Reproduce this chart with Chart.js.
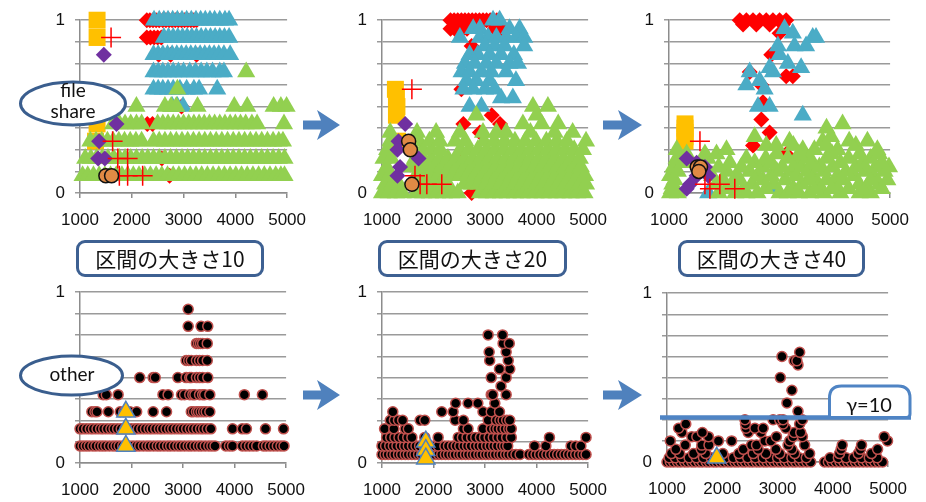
<!DOCTYPE html>
<html>
<head>
<meta charset="utf-8">
<script src="https://cdn.jsdelivr.net/npm/chart.js@4.4.1/dist/chart.umd.min.js"></script>
<style>
  html, body { margin: 0; padding: 0; background: #fff; }
  #stage { position: relative; width: 926px; height: 502px; overflow: hidden; background: #fff; }
  #stage canvas { position: absolute; }
  .cap {
    position: absolute; box-sizing: border-box; height: 37px; top: 240px;
    border: 3px solid #3d6092; border-radius: 9px; background: #fff;
    font-family: "Noto Sans CJK JP", sans-serif; font-size: 21px; line-height: 30px;
    text-align: center; color: #111; z-index: 2;
  }
  #overlay { position: absolute; left: 0; top: 0; z-index: 3; }
</style>
</head>
<body>
<div id="stage">
  <div class="cap" id="cap0" style="left:76px;width:188px;"></div>
  <div class="cap" id="cap1" style="left:378px;width:189px;"></div>
  <div class="cap" id="cap2" style="left:678px;width:187px;"></div>
  <svg id="overlay" width="926" height="502" xmlns="http://www.w3.org/2000/svg">
    <!-- group callouts -->
    <ellipse cx="73" cy="103.5" rx="52.5" ry="21.5" fill="#fff" stroke="#3a5e8e" stroke-width="3"/>
    <text x="73" y="97" font-family="Lato, sans-serif" font-size="19" text-anchor="middle" fill="#111">file</text>
    <text x="73" y="118" font-family="Lato, sans-serif" font-size="19" text-anchor="middle" fill="#111">share</text>
    <ellipse cx="71.5" cy="375.5" rx="51" ry="19.5" fill="#fff" stroke="#3a5e8e" stroke-width="3"/>
    <text x="72" y="381" font-family="Lato, sans-serif" font-size="19" text-anchor="middle" fill="#111">other</text>
    <!-- arrows between interval sizes -->
    <g fill="#4f81bd">
      <path d="M303 120.5 L321 120.5 L317 110 L340 125 L317 140 L321 129.5 L303 129.5 Z"/>
      <path d="M603 120.5 L622 120.5 L618 110 L642 125 L618 140 L622 129.5 L603 129.5 Z"/>
      <path d="M303 390.5 L321 390.5 L317 380 L340 395 L317 410 L321 399.5 L303 399.5 Z"/>
      <path d="M603 390.5 L622 390.5 L618 380 L642 395 L618 410 L622 399.5 L603 399.5 Z"/>
    </g>
    <!-- threshold line and its label -->
    <line x1="660" y1="417.5" x2="911" y2="417.5" stroke="#4f84c4" stroke-width="4.5"/>
    <path d="M829.5 417.5 L829.5 398 Q829.5 386 841.5 386 L898 386 Q910 386 910 398 L910 414 Q910 417.5 906.5 417.5 Z"
          fill="#fff" stroke="#4f84c4" stroke-width="3"/>
    <text id="gammaText" x="869" y="412" font-family="Lato, sans-serif" font-size="20" text-anchor="middle" fill="#111"></text>
  </svg>
</div>
<script>
// axis ticks and labels
const xTicks = [1000, 2000, 3000, 4000, 5000];
const yGridValues = [0, 0.125, 0.25, 0.375, 0.5, 0.625, 0.75, 0.875, 1];
const yTickText = [[0, '0'], [1, '1']];
const intervalLabels = ['区間の大きさ10', '区間の大きさ20', '区間の大きさ40'];
const thresholdLabel = 'γ=10';

// ---- interval size 10 (file share) : rows of [y, [x...]] ----
const t10Square = [[1.0, [1330]], [0.9, [1330]], [0.4, [1330]], [0.3, [1300]]];
const t10Red = [
  [1.0, [2290, 2350, 2410, 2470, 2530, 2600, 2660, 2720, 2780, 2840, 2900, 2960, 3020, 3080, 3140, 3200, 3250]],
  [0.9, [2290, 2360, 2430, 2500, 2570]],
  [0.8, [2520, 2750, 3250]],
  [0.5, [2960]],
  [0.4, [2300, 2400]],
  [0.2, [2580]],
  [0.1, [2730]]
];
const t10Blue = [
  [1.0, [2430, 2530, 2620, 2700, 2790, 2880, 2970, 3060, 3150, 3240, 3330, 3420, 3510, 3600, 3700, 3800, 3880]],
  [0.9, [2620, 2710, 2800, 2890, 2980, 3070, 3160, 3250, 3340, 3430, 3520, 3610, 3700, 3790, 3880]],
  [0.8, [2420, 2510, 2600, 2690, 2780, 2870, 2960, 3050, 3140, 3230, 3320, 3410, 3500, 3590, 3680, 3780, 3900]],
  [0.7, [2420, 2510, 2600, 2700, 2800, 2900, 3000, 3120, 3230, 3340, 3450, 3560, 3700, 3780]],
  [0.6, [2420, 2510, 2600, 2700, 2800, 2930, 3060, 3200, 3300, 3650]],
  [0.5, [2780, 2880, 2990]]
];
const t10Green = [
  [0.1, [1050, 1150, 1260, 1370, 1480, 1590, 1700, 1810, 1920, 2030, 2140, 2250, 2360, 2470, 2580, 2690, 2800, 2910, 3020, 3130, 3240, 3350, 3460, 3570, 3680, 3790, 3900, 4010, 4120, 4230, 4340, 4450, 4560, 4670, 4780, 4880, 4950]],
  [0.2, [1100, 1210, 1320, 1430, 1540, 1650, 1760, 1870, 1980, 2090, 2200, 2310, 2420, 2530, 2640, 2750, 2860, 2970, 3080, 3190, 3300, 3410, 3520, 3630, 3740, 3850, 3960, 4070, 4180, 4290, 4400, 4510, 4620, 4730, 4840, 4950]],
  [0.3, [1200, 1310, 1420, 1530, 1640, 1750, 1860, 1970, 2080, 2190, 2420, 2530, 2640, 2750, 2860, 2970, 3080, 3190, 3300, 3410, 3520, 3630, 3740, 3850, 3960, 4070, 4180, 4290, 4400, 4510, 4620, 4730, 4840, 4920]],
  [0.4, [1640, 1760, 1870, 1980, 2090, 2190, 2500, 2600, 2700, 2800, 2900, 3000, 3100, 3200, 3300, 3400, 3500, 3600, 3700, 3800, 3900, 4000, 4100, 4200, 4320, 4420, 4940]],
  [0.5, [2090, 2640, 2760, 2860, 3270, 3980, 4230, 4740, 4880, 4990]],
  [0.6, [2880]],
  [0.7, [4210]]
];
const t10Purple = [[0.8, [1460]], [0.4, [1705]], [0.3, [1370]], [0.2, [1350, 1480]]];
const t10Plus = [[0.9, [1600]], [0.3, [1630]], [0.2, [1730, 1920]], [0.1, [1760, 1920, 2210]]];
const t10Circle = [[0.1, [1500, 1610]]];

// ---- interval size 20 (file share) ----
const t20Square = [[0.6, [1260]], [0.55, [1280]], [0.5, [1290]], [0.45, [1280]], [0.3, [1300]]];
const t20Red = [
  [1.0, [2330, 2400, 2470, 2540, 2610, 2680, 2750, 2820, 2890, 2960, 3030, 3100, 3170, 3230]],
  [0.95, [2330, 2410, 2490, 2570, 2650, 3190, 3330]],
  [0.85, [2740]],
  [0.6, [2540]],
  [0.45, [3130]],
  [0.4, [2580, 3290]],
  [0.35, [2900]],
  [0.2, [2450]],
  [0, [2740]]
];
const t20Blue = [
  [1.0, [3155, 3283]],
  [0.95, [2770, 2900, 3475, 3670]],
  [0.9, [2512, 2897, 3060, 3220, 3410, 3600, 3760]],
  [0.85, [3000, 3190, 3380, 3760]],
  [0.8, [2700, 2860, 3090, 3310, 3560]],
  [0.75, [2610, 2800, 3025, 3220, 3475, 3640]],
  [0.7, [2545, 2700, 2930, 3120, 3410]],
  [0.65, [2640, 2830, 3090, 3600]],
  [0.6, [2580, 2770, 3000, 3190]],
  [0.55, [3310, 3540]],
  [0.5, [2700, 2930]]
];
const t20Green = [
  [0, [1000, 1130, 1270, 1400, 1660, 1800, 1930, 2070, 2200, 2340, 2470, 2900, 3040, 3170, 3310, 3440, 3580, 3710, 3850, 3980, 4120, 4250, 4390, 4520, 4660, 4790, 4930]],
  [0.05, [1060, 1200, 1330, 1730, 1870, 2000, 2140, 2280, 2600, 2750, 2880, 3020, 3160, 3300, 3440, 3580, 3720, 3860, 4000, 4140, 4280, 4420, 4560, 4700, 4840, 4960]],
  [0.1, [1000, 1140, 1660, 1800, 1950, 2090, 2230, 2380, 2520, 2660, 2800, 2950, 3090, 3230, 3380, 3520, 3660, 3800, 3950, 4090, 4230, 4370, 4520, 4660, 4800, 4940]],
  [0.15, [1090, 1560, 1710, 1860, 2010, 2160, 2310, 2460, 2610, 2760, 2910, 3060, 3210, 3360, 3510, 3660, 3810, 3960, 4110, 4260, 4410, 4560, 4710, 4860]],
  [0.2, [1030, 1180, 1640, 1800, 1960, 2120, 2280, 2440, 2600, 2760, 2920, 3080, 3240, 3400, 3560, 3720, 3880, 4040, 4200, 4360, 4520, 4680, 4840]],
  [0.25, [1100, 1620, 1790, 1960, 2130, 2520, 2690, 2860, 3030, 3200, 3370, 3540, 3710, 3880, 4050, 4220, 4390, 4560, 4730, 4900]],
  [0.3, [1160, 1720, 1920, 2120, 2420, 2620, 2980, 3180, 3380, 3580, 3780, 3990, 4190, 4390, 4590, 4960]],
  [0.35, [1160, 1680, 2050, 2510, 2960, 3220, 3410, 3880, 4350, 4700]],
  [0.4, [3735, 4100, 4420]],
  [0.45, [2830, 4000]],
  [0.5, [3930, 4220]]
];
const t20Purple = [[0.4, [1450]], [0.3, [1320]], [0.25, [1300]], [0.2, [1710]], [0.15, [1350]], [0.1, [1300]]];
const t20Plus = [[0.6, [1580]], [0.1, [1640]], [0.05, [1740, 1870, 2160]]];
const t20Circle = [[0.3, [1517]], [0.25, [1550]], [0.05, [1580]]];

// ---- interval size 40 (file share) ----
const t40Square = [[0.4, [1290]], [0.375, [1290]], [0.35, [1290]], [0.325, [1290]], [0.3, [1290]]];
const t40Red = [
  [1.0, [2280, 2400, 2520, 2640, 2760, 2880, 3000, 3120]],
  [0.975, [2340, 2580, 2820, 3060]],
  [0.925, [3000]],
  [0.8, [2850]],
  [0.7, [2460]],
  [0.675, [3120, 3240]],
  [0.625, [2670]],
  [0.525, [2700]],
  [0.425, [2670]],
  [0.35, [2820]],
  [0.275, [2520]],
  [0.225, [3120]]
];
const t40Blue = [
  [0.95, [3090]], [0.925, [3240]], [0.9, [3600, 3660]], [0.85, [2970, 3270, 3480]],
  [0.8, [3000]], [0.75, [3150]], [0.725, [2820, 3390]], [0.7, [2460, 2880]],
  [0.65, [2640]], [0.625, [2400]], [0.6, [2730]], [0.5, [2610, 2820]],
  [0.45, [3420]], [0.025, [2880]], [0, [1710]]
];
const t40Green = [
  [0, [1020, 1160, 1900, 2200, 2400, 2600, 3000, 3150, 3350, 3550, 3800, 4100, 4450, 4650]],
  [0.025, [1050, 2050, 2350, 2750, 3250, 3650, 3950, 4250, 4560, 4850]],
  [0.05, [1060, 1850, 2150, 2500, 2900, 3400, 3700, 4000, 4440, 4800]],
  [0.075, [1100, 1980, 2280, 2700, 3100, 3520, 3850, 4150, 4650, 4950]],
  [0.1, [1020, 1780, 2220, 2600, 2850, 3300, 3600, 4050, 4350, 4700]],
  [0.125, [1160, 2050, 2460, 2950, 3240, 3500, 3800, 4200, 4550, 4900]],
  [0.15, [1080, 1900, 2310, 2700, 3050, 3400, 3720, 3960, 4380, 4740, 4980]],
  [0.175, [1250, 2100, 2550, 2850, 3300, 3600, 4100, 4500, 4850]],
  [0.2, [1140, 1700, 2400, 2750, 3150, 3500, 3850, 4250, 4650]],
  [0.225, [1320, 1650, 1860, 2950, 3350, 3950, 4450, 4800]],
  [0.25, [1140, 2040, 3420, 3630, 4050, 4770]],
  [0.275, [2760, 2940, 3250, 3850, 4380]],
  [0.3, [3180, 3780, 4260, 4590]],
  [0.325, [2550, 3930]],
  [0.375, [3850]],
  [0.4, [4140]]
];
const t40Purple = [[0.2, [1320]], [0.175, [1500]], [0.15, [1650]], [0.1, [1500, 1710]], [0.05, [1380]], [0.025, [1320]]];
const t40Plus = [[0.3, [1560]], [0.05, [1650, 1920]], [0.025, [1740, 2190]]];
const t40Circle = [[0.15, [1510, 1570]], [0.125, [1540]]];

// ---- other traffic ----
const b10Dots = [
  [0.1, [1000, 1060, 1120, 1180, 1250, 1310, 1380, 1440, 1500, 1570, 1640, 1700, 1760, 1830, 1900, 1960, 2030, 2100, 2160, 2230, 2300, 2360, 2430, 2500, 2560, 2630, 2700, 2760, 2830, 2900, 2960, 3030, 3100, 3160, 3230, 3300, 3360, 3430, 3500, 3560, 3620, 3830, 3900, 3960, 4150, 4220, 4290, 4360, 4430, 4560, 4620, 4690, 4760, 4830, 4900, 4960]],
  [0.2, [1000, 1060, 1130, 1200, 1260, 1330, 1400, 1460, 1530, 1600, 1660, 1730, 1800, 1870, 1930, 2000, 2070, 2130, 2200, 2270, 2340, 2400, 2470, 2540, 2600, 2670, 2740, 2800, 2870, 2940, 3000, 3070, 3140, 3200, 3270, 3340, 3400, 3470, 3540, 3960, 4150, 4230, 4600, 4950]],
  [0.3, [1230, 1290, 1330, 1550, 1780, 1850, 1970, 2100, 2420, 2680, 3160, 3200, 3260, 3300, 3350, 3400, 3450, 3520]],
  [0.4, [1450, 1510, 1740, 2610, 2710, 2970, 3030, 3130, 3190, 3230, 3320, 3380, 3420, 3520, 4190, 4540]],
  [0.5, [2160, 2420, 2460, 2900, 3060, 3130, 3160, 3260, 3320, 3380, 3480]],
  [0.6, [3060, 3110, 3160, 3260, 3320, 3380, 3470]],
  [0.7, [3260, 3300, 3340, 3380, 3470]],
  [0.8, [3100, 3350, 3480]],
  [0.9, [3100]]
];
const b10Tri = [[0.3, [1890]], [0.2, [1890]], [0.1, [1890]]];

const b20Dots = [
  [0.05, [1000, 1060, 1120, 1190, 1250, 1320, 1380, 1450, 1510, 1580, 1640, 1710, 1770, 1840, 1900, 1970, 2030, 2100, 2160, 2230, 2290, 2360, 2420, 2490, 2550, 2620, 2680, 2750, 2810, 2880, 2940, 3010, 3070, 3140, 3200, 3270, 3330, 3400, 3460, 3530, 3600, 3680, 3850, 3920, 3990, 4060, 4130, 4200, 4270, 4340, 4410, 4480, 4550, 4620, 4690, 4760, 4830, 4900, 4960]],
  [0.1, [1000, 1070, 1150, 1220, 1290, 1370, 1440, 1510, 1590, 1660, 1730, 1810, 1880, 1950, 2030, 2090, 2220, 2290, 2370, 2440, 2510, 2590, 2660, 2730, 2810, 2880, 2950, 3030, 3100, 3170, 3240, 3320, 3380, 3440, 3960, 4180, 4670, 4760, 4860]],
  [0.15, [1090, 1170, 1250, 1330, 1410, 1500, 1580, 1830, 2090, 2480, 2560, 2650, 2740, 2820, 2910, 2990, 3080, 3160, 3250, 3330, 3420, 3510, 4250, 4960]],
  [0.2, [1050, 1230, 1450, 1510, 2580, 2670, 2960, 3120, 3190, 3250, 3320, 3390, 3460, 3510]],
  [0.25, [1160, 1240, 1320, 1400, 1740, 1830, 2420, 2580, 3060, 3220, 3290, 3350, 3420, 3480]],
  [0.3, [1210, 2160, 2380, 2960, 3120, 3280]],
  [0.35, [2430, 2670, 2860, 3190]],
  [0.4, [3120, 3150, 3410]],
  [0.45, [3310]],
  [0.5, [3120, 3410]],
  [0.55, [3280, 3480]],
  [0.6, [3090, 3450]],
  [0.65, [3080, 3410]],
  [0.7, [3350, 3470]],
  [0.75, [3060, 3340]]
];
const b20Tri = [[0.125, [1850]], [0.075, [1850]], [0.025, [1850]]];

const b40Dots = [
  [0, [1000, 1060, 1120, 1190, 1250, 1320, 1380, 1450, 1510, 1580, 1640, 1710, 1770, 1840, 1900, 1970, 2030, 2100, 2160, 2230, 2290, 2360, 2420, 2490, 2550, 2620, 2680, 2750, 2810, 2880, 2940, 3010, 3070, 3140, 3200, 3270, 3330, 3400, 3460, 3530, 3600, 3850, 3920, 3990, 4060, 4130, 4200, 4270, 4340, 4410, 4480, 4550, 4620, 4690, 4760, 4830, 4900]],
  [0.025, [1040, 1150, 1270, 1400, 1530, 1660, 1800, 1930, 2060, 2200, 2330, 2460, 2600, 2740, 2870, 3000, 3120, 3260, 3390, 3520, 3950, 4100, 4240, 4380, 4520, 4660, 4800]],
  [0.05, [1080, 1230, 1480, 1700, 2010, 2300, 2560, 2790, 3040, 3310, 3580, 4120, 4460, 4700]],
  [0.075, [1160, 1620, 2380, 2650, 2970, 3260, 4150, 4500, 4810]],
  [0.1, [1330, 1630, 1760, 2530, 2620, 3190, 3490, 4170, 4520]],
  [0.125, [1060, 1930, 2170, 2770, 2880, 3220, 4990]],
  [0.15, [1450, 1540, 1750, 2980, 3280, 3450, 4930]],
  [0.175, [1270, 1640, 2470, 2700, 3300, 3420]],
  [0.2, [1210, 2430, 2590, 2740, 3150]],
  [0.225, [1340, 2420, 3100, 3400]],
  [0.25, [2410, 2920, 3040, 3100, 3450]],
  [0.3, [3370]],
  [0.35, [3170]],
  [0.425, [3260]],
  [0.5, [3050]],
  [0.575, [3370]],
  [0.6, [3300, 3350]],
  [0.625, [3080]],
  [0.65, [3400]]
];
const b40Tri = [[0.025, [1900]]];

// ---------- drawing ----------
Chart.defaults.font.family = '"Liberation Sans", Arial, sans-serif';
const toPoints = rows => rows.flatMap(([y, xs]) => xs.map(x => ({ x, y })));

function fileShareSets(sq, red, blue, green, purple, plus, circ) {
  return [
    { data: toPoints(circ), pointStyle: 'circle', pointRadius: 7, backgroundColor: '#e08a45', borderColor: '#111', borderWidth: 1.5, order: 1 },
    { data: toPoints(plus), pointStyle: 'cross', pointRadius: 10, backgroundColor: '#ff0000', borderColor: '#ff0000', borderWidth: 1.5, order: 2 },
    { data: toPoints(purple), pointStyle: 'rectRot', pointRadius: 8, backgroundColor: '#7030a0', borderWidth: 0, order: 3 },
    { data: toPoints(green), pointStyle: 'triangle', pointRadius: 10.5, backgroundColor: '#92d050', borderWidth: 0, order: 4 },
    { data: toPoints(blue), pointStyle: 'triangle', pointRadius: 10.5, backgroundColor: '#4bacc6', borderWidth: 0, order: 5 },
    { data: toPoints(red), pointStyle: 'rectRot', pointRadius: 8, backgroundColor: '#ff0000', borderWidth: 0, order: 6 },
    { data: toPoints(sq), pointStyle: 'rect', pointRadius: 12, backgroundColor: '#ffc000', borderWidth: 0, order: 7 }
  ].map(d => ({ ...d, clip: false }));
}

function otherSets(dots, tri) {
  return [
    { data: toPoints(tri), pointStyle: 'triangle', pointRadius: 10.5, backgroundColor: '#ffc000', borderColor: '#4f81bd', borderWidth: 1.5, order: 1 },
    { data: toPoints(dots), pointStyle: 'circle', pointRadius: 5, backgroundColor: '#000', borderColor: '#c0504d', borderWidth: 1.5, order: 2 }
  ].map(d => ({ ...d, clip: false }));
}

const stage = document.getElementById('stage');
const overlay = document.getElementById('overlay');

function makePanel(area, datasets) {
  const [l, t, r, b] = area;
  const padL = 50, padT = 15, padR = 30, padB = 45;
  const cv = document.createElement('canvas');
  cv.width = r - l + padL + padR;
  cv.height = b - t + padT + padB;
  cv.style.left = (l - padL) + 'px';
  cv.style.top = (t - padT) + 'px';
  stage.insertBefore(cv, overlay);
  const labelFor = v => { const hit = yTickText.find(e => Math.abs(e[0] - v) < 1e-9); return hit ? hit[1] : ''; };
  new Chart(cv, {
    type: 'scatter',
    data: { datasets },
    options: {
      responsive: false, animation: false, devicePixelRatio: 1, events: [],
      layout: { padding: { left: 0, right: padR, top: padT, bottom: 0 } },
      plugins: { legend: { display: false }, tooltip: { enabled: false } },
      scales: {
        x: {
          type: 'linear', position: 'bottom', min: 1000, max: 5000,
          afterBuildTicks: s => { s.ticks = xTicks.map(v => ({ value: v })); },
          afterFit: s => { s.height = padB; },
          grid: { drawOnChartArea: false, drawTicks: true, tickLength: 5, color: '#8c8c8c', lineWidth: 1.5 },
          border: { color: '#8c8c8c', width: 1.5 },
          ticks: { color: '#111', font: { size: 17 }, padding: 12, maxRotation: 0, autoSkip: false, callback: v => String(v) }
        },
        y: {
          type: 'linear', min: 0, max: 1,
          afterBuildTicks: s => { s.ticks = yGridValues.map(v => ({ value: v })); },
          afterFit: s => { s.width = padL; },
          grid: { color: '#9a9a9a', lineWidth: 1.5, tickLength: 5 },
          border: { color: '#8c8c8c', width: 1.5 },
          ticks: { color: '#111', font: { size: 17 }, padding: 10, autoSkip: false, callback: v => labelFor(v) }
        }
      }
    }
  });
}

makePanel([80, 15, 288, 193], fileShareSets(t10Square, t10Red, t10Blue, t10Green, t10Purple, t10Plus, t10Circle));
makePanel([382, 15, 589, 193], fileShareSets(t20Square, t20Red, t20Blue, t20Green, t20Purple, t20Plus, t20Circle));
makePanel([669, 15, 891, 193], fileShareSets(t40Square, t40Red, t40Blue, t40Green, t40Purple, t40Plus, t40Circle));
makePanel([80, 287, 287, 463], otherSets(b10Dots, b10Tri));
makePanel([382, 287, 589, 463], otherSets(b20Dots, b20Tri));
makePanel([667, 288, 889, 462], otherSets(b40Dots, b40Tri));

intervalLabels.forEach((txt, i) => { document.getElementById('cap' + i).textContent = txt; });
document.getElementById('gammaText').textContent = thresholdLabel;
</script>
</body>
</html>
